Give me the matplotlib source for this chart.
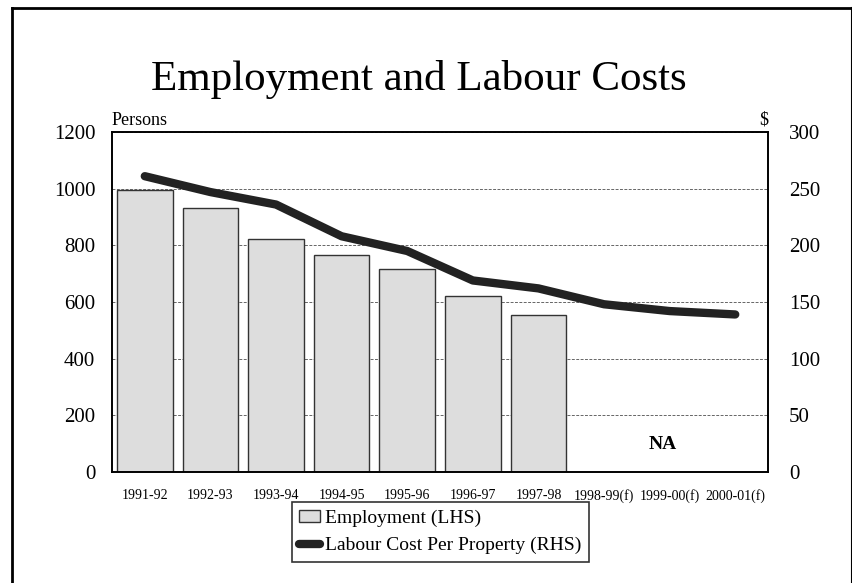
import matplotlib.pyplot as plt
from matplotlib.lines import Line2D

plt.rcParams['font.family'] = ['Liberation Serif', 'DejaVu Serif']

# Data
years = ["1991-92", "1992-93", "1993-94", "1994-95", "1995-96", "1996-97",
         "1997-98", "1998-99(f)", "1999-00(f)", "2000-01(f)"]
employment = [995, 933, 822, 766, 716, 621, 553]          # persons (LHS)
labour_cost = [261, 247, 236, 208, 195, 169, 162, 148, 142, 139]  # $ (RHS)

fig = plt.figure(figsize=(8.53, 5.83), dpi=100)
ax = fig.add_axes([0.1313, 0.1904, 0.7691, 0.5832])
ax2 = ax.twinx()

x = list(range(len(years)))

# Employment bars
ax.bar(x[:len(employment)], employment, width=0.85, color='#dddddd',
       edgecolor='#333333', linewidth=1.0, zorder=2, label='Employment (LHS)')
ax.set_ylim(0, 1200)
ax.set_yticks(range(0, 1201, 200))
ax.set_xlim(-0.5, len(years) - 0.5)
ax.set_xticks(x)
ax.set_xticklabels(years, fontsize=10)
ax.tick_params(axis='both', length=0)
ax.tick_params(axis='y', labelsize=15, pad=12)
ax.tick_params(axis='x', pad=12)
ax.yaxis.grid(True, linestyle=(0, (3, 1.5)), color='#666666', linewidth=0.7, zorder=1)
ax.set_axisbelow(True)
for s in ax.spines.values():
    s.set_linewidth(1.2)

ax.text(7.9, 96, "NA", fontsize=14, fontweight='bold', ha='center', va='center')

# Labour cost line
ax2.plot(x, labour_cost, color='#222222', linewidth=6, solid_capstyle='round',
         solid_joinstyle='round', zorder=3)
ax2.set_ylim(0, 300)
ax2.set_yticks(range(0, 301, 50))
ax2.tick_params(axis='y', length=0, labelsize=15, pad=15)
for s in ax2.spines.values():
    s.set_linewidth(1.2)

# Axis unit labels
ax.text(0, 1.01, "Persons", transform=ax.transAxes, fontsize=13, ha='left', va='bottom')
ax.text(1, 1.01, "$", transform=ax.transAxes, fontsize=13, ha='right', va='bottom')

fig.text(0.491, 0.863, "Employment and Labour Costs", fontsize=31, ha='center', va='center')

# Legend
handles = [
    plt.Rectangle((0, 0), 1, 1, facecolor='#dddddd', edgecolor='#333333', linewidth=1.0),
    Line2D([0], [0], color='#222222', linewidth=6, solid_capstyle='round'),
]
labels = ['Employment (LHS)', 'Labour Cost Per Property (RHS)']
leg = fig.legend(handles, labels, loc='center', bbox_to_anchor=(0.516, 0.0875),
                 fontsize=14, frameon=True, fancybox=False, edgecolor='black',
                 handlelength=1.05, handleheight=0.6, handletextpad=0.25,
                 borderpad=0.4, labelspacing=0.5, borderaxespad=0)
leg.get_frame().set_linewidth(1.2)

# Outer frame lines
fig.add_artist(Line2D([12 / 853, 12 / 853], [0, 1 - 8 / 583], color='black',
                      linewidth=2, transform=fig.transFigure))
fig.add_artist(Line2D([12 / 853, 1], [1 - 8 / 583, 1 - 8 / 583], color='black',
                      linewidth=2, transform=fig.transFigure))
fig.add_artist(Line2D([852 / 853, 852 / 853], [0, 1 - 8 / 583], color='black',
                      linewidth=1.5, transform=fig.transFigure))

fig.savefig("out.png", dpi=100)
